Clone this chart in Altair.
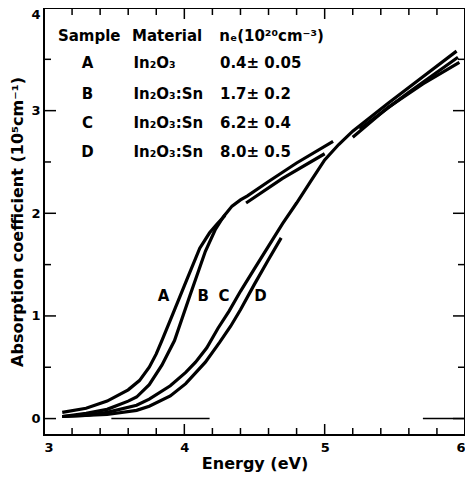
import altair as alt
import pandas as pd

# ---- data ----
A_lo_E = [3.13, 3.30, 3.45, 3.60, 3.68, 3.75, 3.80, 3.84, 3.93, 4.02, 4.11, 4.18, 4.23, 4.29]
A_lo_a = [0.06, 0.10, 0.17, 0.28, 0.37, 0.50, 0.63, 0.76, 1.06, 1.36, 1.66, 1.81, 1.89, 1.98]
A_up_E = [4.44, 4.70, 5.00]
A_up_a = [2.10, 2.34, 2.58]

B_E = [3.13, 3.30, 3.45, 3.60, 3.66, 3.75, 3.84, 3.93, 4.04, 4.15, 4.22, 4.28, 4.34, 4.40, 4.45, 4.60, 4.80, 5.06]
B_a = [0.02, 0.05, 0.09, 0.17, 0.21, 0.33, 0.52, 0.76, 1.20, 1.63, 1.84, 1.97, 2.07, 2.13, 2.17, 2.31, 2.49, 2.70]
B_up_E = [5.25, 5.60, 5.95]
B_up_a = [2.82, 3.18, 3.52]

C_E = [3.13, 3.30, 3.45, 3.66, 3.75, 3.90, 4.01, 4.08, 4.16, 4.24, 4.32, 4.40, 4.50, 4.60, 4.70, 4.80, 4.90,
       5.00, 5.10, 5.20, 5.45, 5.70, 5.94]
C_a = [0.02, 0.03, 0.06, 0.13, 0.19, 0.32, 0.45, 0.55, 0.69, 0.88, 1.05, 1.24, 1.46, 1.68, 1.90, 2.10, 2.31,
       2.52, 2.67, 2.80, 3.07, 3.33, 3.58]

D_lo_E = [3.13, 3.45, 3.66, 3.75, 3.90, 4.01, 4.15, 4.25, 4.33, 4.40, 4.50, 4.60, 4.69]
D_lo_a = [0.02, 0.04, 0.08, 0.12, 0.22, 0.34, 0.55, 0.74, 0.90, 1.06, 1.31, 1.55, 1.76]
D_up_E = [5.20, 5.45, 5.70, 5.96]
D_up_a = [2.74, 3.03, 3.26, 3.47]

zero_segments = [(3.48, 4.18), (5.70, 6.00)]

samples = ["A", "B", "C", "D"]
materials = ["In₂O₃", "In₂O₃:Sn", "In₂O₃:Sn", "In₂O₃:Sn"]
densities = ["0.4± 0.05", "1.7± 0.2", "6.2± 0.4", "8.0± 0.5"]
headers = ["Sample", "Material", "nₑ(10²⁰cm⁻³)"]

x_major = [4, 5]
x_minor = [3.2, 3.4, 3.6, 3.8, 4.2, 4.4, 4.6, 4.8, 5.2, 5.4, 5.6, 5.8]
y_major = [0, 1, 2, 3]
y_minor = [0.5, 1.5, 2.5, 3.5]
x_labels = [3, 4, 5, 6]
y_labels = [0, 1, 2, 3, 4]

# ---- build tables ----
rows = []
for name, E, a in [("A_lo", A_lo_E, A_lo_a), ("A_up", A_up_E, A_up_a),
                   ("B", B_E, B_a), ("B_up", B_up_E, B_up_a),
                   ("C", C_E, C_a),
                   ("D_lo", D_lo_E, D_lo_a), ("D_up", D_up_E, D_up_a)]:
    for e, v in zip(E, a):
        rows.append({"E": e, "a": v, "seg": name})
curves = pd.DataFrame(rows)

zrows = []
for i, (e0, e1) in enumerate(zero_segments):
    zrows.append({"E": e0, "a": 0.0, "seg": f"z{i}"})
    zrows.append({"E": e1, "a": 0.0, "seg": f"z{i}"})
zeros = pd.DataFrame(zrows)

W, H = 421, 427
FONT = "DejaVu Sans"
xs = alt.Scale(domain=[3, 6], nice=False, zero=False, padding=0)
ys = alt.Scale(domain=[-0.16, 4], nice=False, zero=False, padding=0)

X = alt.X("E:Q", scale=xs,
          axis=alt.Axis(values=x_labels, format="d", title="Energy (eV)", ticks=False, domain=False,
                        grid=False, labelFlush=True, labelPadding=6,
                        titleY=36, titleBaseline="bottom"))
Y = alt.Y("a:Q", scale=ys,
          axis=alt.Axis(values=y_labels, format="d", title="Absorption coefficient (10⁵cm⁻¹)",
                        ticks=False, domain=False, grid=False, labelFlush=True, labelPadding=4,
                        titlePadding=5))

lines = alt.Chart(curves).mark_line(color="black", strokeWidth=3.2, strokeCap="butt").encode(
    x=X, y=Y, detail="seg:N")

zero_lines = alt.Chart(zeros).mark_line(color="black", strokeWidth=1.5).encode(
    x=alt.X("E:Q", scale=xs), y=alt.Y("a:Q", scale=ys), detail="seg:N")

def xticks(vals, length, top):
    df = pd.DataFrame({"E": vals})
    if top:
        return alt.Chart(df).mark_rule(color="black", strokeWidth=1.5).encode(
            x=alt.X("E:Q", scale=xs), y=alt.value(0), y2=alt.value(length))
    return alt.Chart(df).mark_rule(color="black", strokeWidth=1.5).encode(
        x=alt.X("E:Q", scale=xs), y=alt.value(H), y2=alt.value(H - length))

def yticks(vals, length, right):
    df = pd.DataFrame({"a": vals})
    if right:
        return alt.Chart(df).mark_rule(color="black", strokeWidth=1.5).encode(
            y=alt.Y("a:Q", scale=ys), x=alt.value(W), x2=alt.value(W - length))
    return alt.Chart(df).mark_rule(color="black", strokeWidth=1.5).encode(
        y=alt.Y("a:Q", scale=ys), x=alt.value(0), x2=alt.value(length))

ticks = [xticks(x_minor, 7, False), xticks(x_major, 11, False),
         xticks(x_minor, 7, True), xticks(x_major, 11, True),
         yticks(y_minor, 7, False), yticks(y_major, 12, False),
         yticks(y_minor, 7, True), yticks(y_major, 12, True)]

# ---- legend table as text ----
header_df = pd.DataFrame({"t": headers, "E": [3.099, 3.627, 4.249], "a": [3.73] * 3})
row_y = [3.46, 3.16, 2.88, 2.60]
samp_df = pd.DataFrame({"t": samples, "E": [3.31] * 4, "a": row_y})
mat_df = pd.DataFrame({"t": materials, "E": [3.638] * 4, "a": row_y})
den_df = pd.DataFrame({"t": densities, "E": [4.254] * 4, "a": row_y})
lab_df = pd.DataFrame({"t": samples, "E": [3.852, 4.134, 4.282, 4.542], "a": [1.19] * 4})

def text_layer(df, align):
    return alt.Chart(df).mark_text(font=FONT, fontWeight="bold", fontSize=15, align=align,
                                   baseline="middle", color="black").encode(
        x=alt.X("E:Q", scale=xs), y=alt.Y("a:Q", scale=ys), text="t:N")

texts = [text_layer(header_df, "left"), text_layer(samp_df, "center"),
         text_layer(mat_df, "left"), text_layer(den_df, "left"),
         text_layer(lab_df, "center")]

chart = alt.layer(lines, zero_lines, *ticks, *texts).properties(
    width=W, height=H,
    autosize=alt.AutoSizeParams(type="none"),
    padding={"left": 36, "top": 0, "right": 0, "bottom": 37},
).configure_view(stroke="black", strokeWidth=2).configure_axis(
    labelFont=FONT, labelFontWeight="bold", labelFontSize=13, labelColor="black",
    titleFont=FONT, titleFontWeight="bold", titleFontSize=16, titleColor="black",
)

chart.save("out.html", embed_options={"renderer": "svg", "actions": False})
